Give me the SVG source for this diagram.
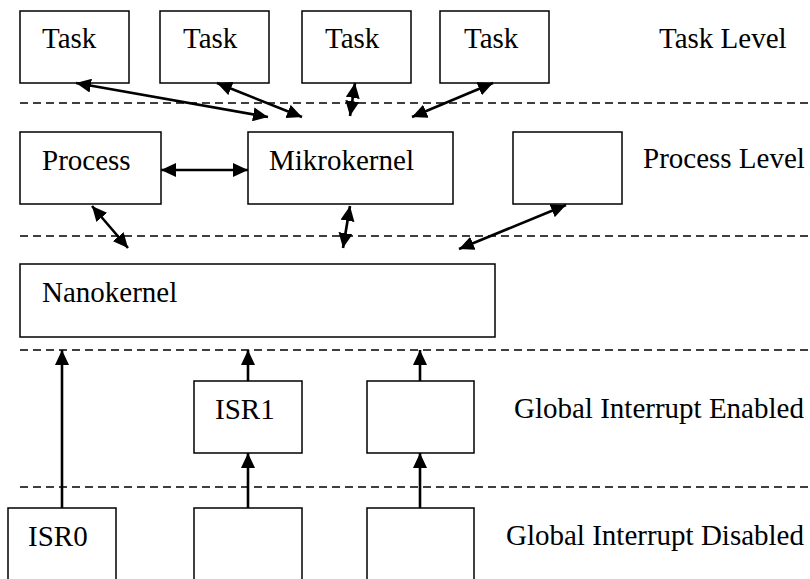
<svg xmlns="http://www.w3.org/2000/svg" width="810" height="579" viewBox="0 0 810 579">
  <style>
    .box { fill: #fff; stroke: #000; stroke-width: 1.5; }
    .lbl { font-family: "Liberation Serif", "Times New Roman", serif; font-size: 29px; fill: #000; }
    .sep { stroke: #000; stroke-width: 1.5; stroke-dasharray: 8 5; fill: none; }
    .link { stroke: #000; stroke-width: 2.6; fill: none; }
    .both { marker-start: url(#head); marker-end: url(#head); }
    .up { marker-end: url(#head); }
  </style>
  <defs>
    <marker id="head" markerUnits="userSpaceOnUse" markerWidth="16" markerHeight="14" refX="15" refY="7" orient="auto-start-reverse" viewBox="0 0 16 14">
      <path d="M0,0 L15,7 L0,14 z" fill="#000"/>
    </marker>
  </defs>
  <rect width="810" height="579" fill="#fff"/>

  <!-- level separators -->
  <g id="separators">
    <line class="sep" x1="20" y1="103" x2="810" y2="103"/>
    <line class="sep" x1="20" y1="236" x2="810" y2="236"/>
    <line class="sep" x1="20" y1="350" x2="810" y2="350"/>
    <line class="sep" x1="20" y1="487" x2="810" y2="487"/>
  </g>

  <!-- level names -->
  <g id="levels">
    <text class="lbl" x="659" y="48">Task Level</text>
    <text class="lbl" x="643" y="168">Process Level</text>
    <text class="lbl" x="514" y="418">Global Interrupt Enabled</text>
    <text class="lbl" x="506" y="545">Global Interrupt Disabled</text>
  </g>

  <!-- task level -->
  <g id="task1"><rect class="box" x="20" y="11" width="109" height="72"/><text class="lbl" x="42" y="48">Task</text></g>
  <g id="task2"><rect class="box" x="160" y="11" width="109" height="72"/><text class="lbl" x="183" y="48">Task</text></g>
  <g id="task3"><rect class="box" x="302" y="11" width="109" height="72"/><text class="lbl" x="325" y="48">Task</text></g>
  <g id="task4"><rect class="box" x="440" y="11" width="109" height="72"/><text class="lbl" x="464" y="48">Task</text></g>

  <!-- process level -->
  <g id="process"><rect class="box" x="20" y="132" width="141" height="72"/><text class="lbl" x="42" y="170">Process</text></g>
  <g id="mikrokernel"><rect class="box" x="248" y="132" width="205" height="72"/><text class="lbl" x="269" y="170">Mikrokernel</text></g>
  <g id="process2"><rect class="box" x="513" y="132" width="109" height="72"/></g>

  <!-- kernel -->
  <g id="nanokernel"><rect class="box" x="20" y="264" width="475" height="73"/><text class="lbl" x="42" y="302">Nanokernel</text></g>

  <!-- interrupt service routines -->
  <g id="isr1"><rect class="box" x="194" y="381" width="108" height="72"/><text class="lbl" x="215" y="419">ISR1</text></g>
  <g id="isr2"><rect class="box" x="367" y="381" width="107" height="72"/></g>
  <g id="isr0"><rect class="box" x="8" y="508" width="108" height="90"/><text class="lbl" x="28" y="546">ISR0</text></g>
  <g id="irq1"><rect class="box" x="194" y="508" width="108" height="90"/></g>
  <g id="irq2"><rect class="box" x="367" y="508" width="107" height="90"/></g>

  <!-- connectors -->
  <g id="connectors">
    <line class="link both" x1="76" y1="83" x2="268" y2="117"/>
    <line class="link both" x1="217" y1="83" x2="302" y2="117"/>
    <line class="link both" x1="355" y1="83" x2="350" y2="116"/>
    <line class="link both" x1="493" y1="83" x2="412" y2="117"/>
    <line class="link both" x1="161" y1="170" x2="248" y2="170"/>
    <line class="link both" x1="92" y1="206" x2="128" y2="248"/>
    <line class="link both" x1="350" y1="206" x2="343" y2="248"/>
    <line class="link both" x1="566" y1="205" x2="459" y2="249"/>
    <line class="link up" x1="62" y1="508" x2="62" y2="350"/>
    <line class="link up" x1="248" y1="381" x2="248" y2="350"/>
    <line class="link up" x1="420" y1="381" x2="420" y2="350"/>
    <line class="link up" x1="248" y1="508" x2="248" y2="453"/>
    <line class="link up" x1="420" y1="508" x2="420" y2="453"/>
  </g>
</svg>
